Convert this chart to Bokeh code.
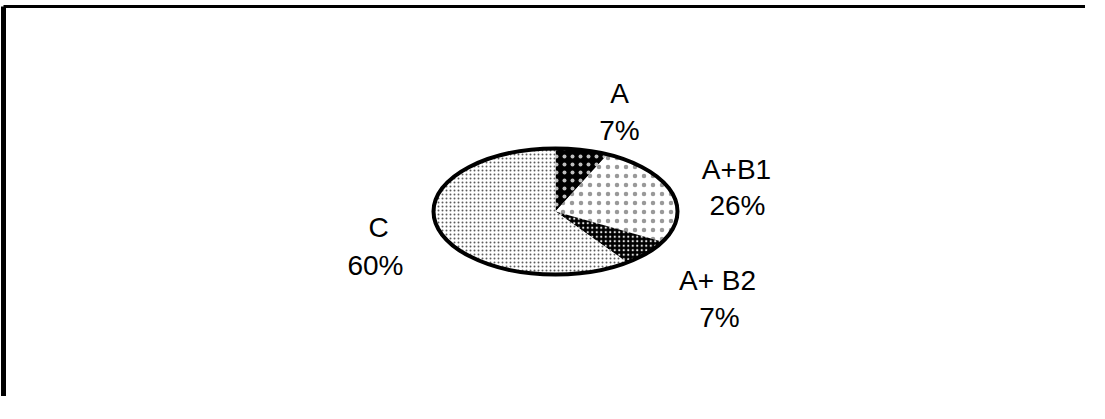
import numpy as np
from bokeh.plotting import figure
from bokeh.models import Range1d
from bokeh.core.properties import value
from bokeh.embed import file_html
from bokeh.resources import INLINE

# ---- data ----
categories = ["A", "A+B1", "A+ B2", "C"]
shares = [7, 26, 7, 60]
pct_labels = ["7%", "26%", "7%", "60%"]

# ---- styling / layout (not data) ----
fill_colors = ["black", "white", "black", "white"]
hatch_colors = ["white", "black", "white", "#333333"]
hatch_alphas = [0.75, 0.4, 0.9, 0.8]
hatch_scales = [8, 9, 4.5, 4]
# label anchors (baseline of each line), in page pixels minus margin
name_pos = [(619, 93), (736, 169), (717, 280), (378, 227)]
pct_pos = [(619, 130), (737, 205), (719, 317), (375, 265)]

W, H = 1085, 396
cx, cy, rx, ry = 555, 211, 122, 63

p = figure(width=W, height=H, output_backend="svg", toolbar_location=None,
           x_range=Range1d(0, W), y_range=Range1d(H, 0),
           min_border=0, min_border_left=0, min_border_right=0,
           min_border_top=0, min_border_bottom=0)
p.axis.visible = False
p.grid.visible = False
p.outline_line_color = None
p.background_fill_color = None
p.border_fill_color = None

# pie slices as elliptical wedges, clockwise from 12 o'clock
total = float(sum(shares))
start = np.pi / 2
for i, s in enumerate(shares):
    sweep = 2 * np.pi * s / total
    t = np.linspace(start, start - sweep, 120)
    xs = [cx] + list(cx + rx * np.cos(t)) + [cx]
    ys = [cy] + list(cy - ry * np.sin(t)) + [cy]
    p.patch(xs, ys, fill_color=fill_colors[i], line_color=None,
            hatch_pattern="dot", hatch_color=hatch_colors[i],
            hatch_alpha=hatch_alphas[i], hatch_scale=hatch_scales[i])
    start -= sweep

p.ellipse(x=[cx], y=[cy], width=2 * rx, height=2 * ry, fill_color=None,
          line_color="black", line_width=4)

# frame (left and top edges visible)
p.line(x=[3, 3], y=[H + 10, 6], line_color="black", line_width=5)
p.line(x=[3, W + 10], y=[6, 6], line_color="black", line_width=3)

for i in range(len(categories)):
    p.text(x=[name_pos[i][0]], y=[name_pos[i][1]], text=[categories[i]],
           text_font=value("Liberation Sans"), text_font_size="28px",
           text_align="center", text_baseline="alphabetic", text_color="black")
    p.text(x=[pct_pos[i][0]], y=[pct_pos[i][1]], text=[pct_labels[i]],
           text_font=value("Liberation Sans"), text_font_size="28px",
           text_align="center", text_baseline="alphabetic", text_color="black")

open("out.html", "w").write(file_html(p, INLINE))
